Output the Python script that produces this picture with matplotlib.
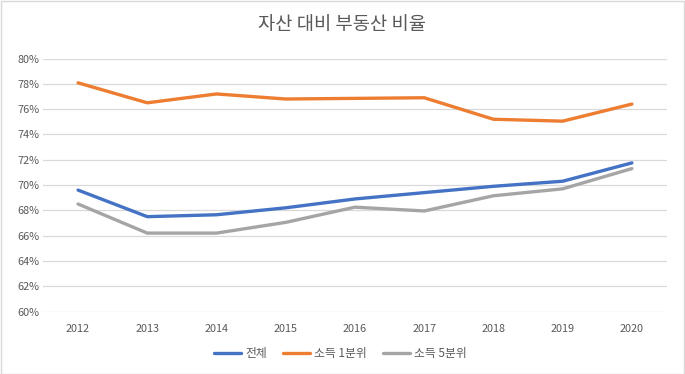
import matplotlib
matplotlib.use("Agg")
import matplotlib.pyplot as plt
from matplotlib.patches import Rectangle
from matplotlib.ticker import FuncFormatter, MultipleLocator

plt.rcParams['font.family'] = ['Noto Sans CJK KR', 'DejaVu Sans']

years = ['2012', '2013', '2014', '2015', '2016', '2017', '2018', '2019', '2020']
total = [69.6, 67.5, 67.65, 68.2, 68.9, 69.4, 69.9, 70.3, 71.75]
q1 = [78.08, 76.5, 77.2, 76.8, 76.85, 76.9, 75.2, 75.05, 76.4]
q5 = [68.5, 66.2, 66.2, 67.05, 68.25, 67.95, 69.15, 69.7, 71.3]
series_names = ['전체', '소득 1분위', '소득 5분위']
colors = ['#4472C4', '#ED7D31', '#A5A5A5']
title = '자산 대비 부동산 비율'

fig = plt.figure(figsize=(6.85, 3.74), dpi=100)
ax = fig.add_axes([0.0634, 0.167, 0.9096, 0.6765])

x = list(range(len(years)))
for vals, name, c in zip([total, q1, q5], series_names, colors):
    ax.plot(x, vals, color=c, lw=2.4, label=name, solid_capstyle='round', zorder=3)

ax.set_xlim(-0.5, len(years) - 0.5)
ax.set_ylim(60, 80)
ax.yaxis.set_major_locator(MultipleLocator(2))
ax.yaxis.set_major_formatter(FuncFormatter(lambda v, p: f'{v:.0f}%'))
ax.set_xticks(x)
ax.set_xticklabels(years)
ax.grid(axis='y', color='#D9D9D9', lw=0.9, zorder=0)
for s in ax.spines.values():
    s.set_visible(False)
ax.tick_params(axis='both', length=0, labelsize=7.8, colors='#595959')
ax.tick_params(axis='x', pad=9)
ax.tick_params(axis='y', pad=3)

fig.text(0.5, 0.935, title, ha='center', va='center', fontsize=13.5, color='#595959')

leg = fig.legend(loc='center', bbox_to_anchor=(0.497, 0.055), ncol=3, frameon=False,
                 fontsize=8.5, handlelength=2.3, handletextpad=0.3, columnspacing=1.4)
for t in leg.get_texts():
    t.set_color('#595959')

fig.patches.append(Rectangle((0.001, 0.001), 0.998, 0.997, transform=fig.transFigure,
                             fill=False, edgecolor='#D9D9D9', lw=1))

fig.savefig('out.png', dpi=100)
